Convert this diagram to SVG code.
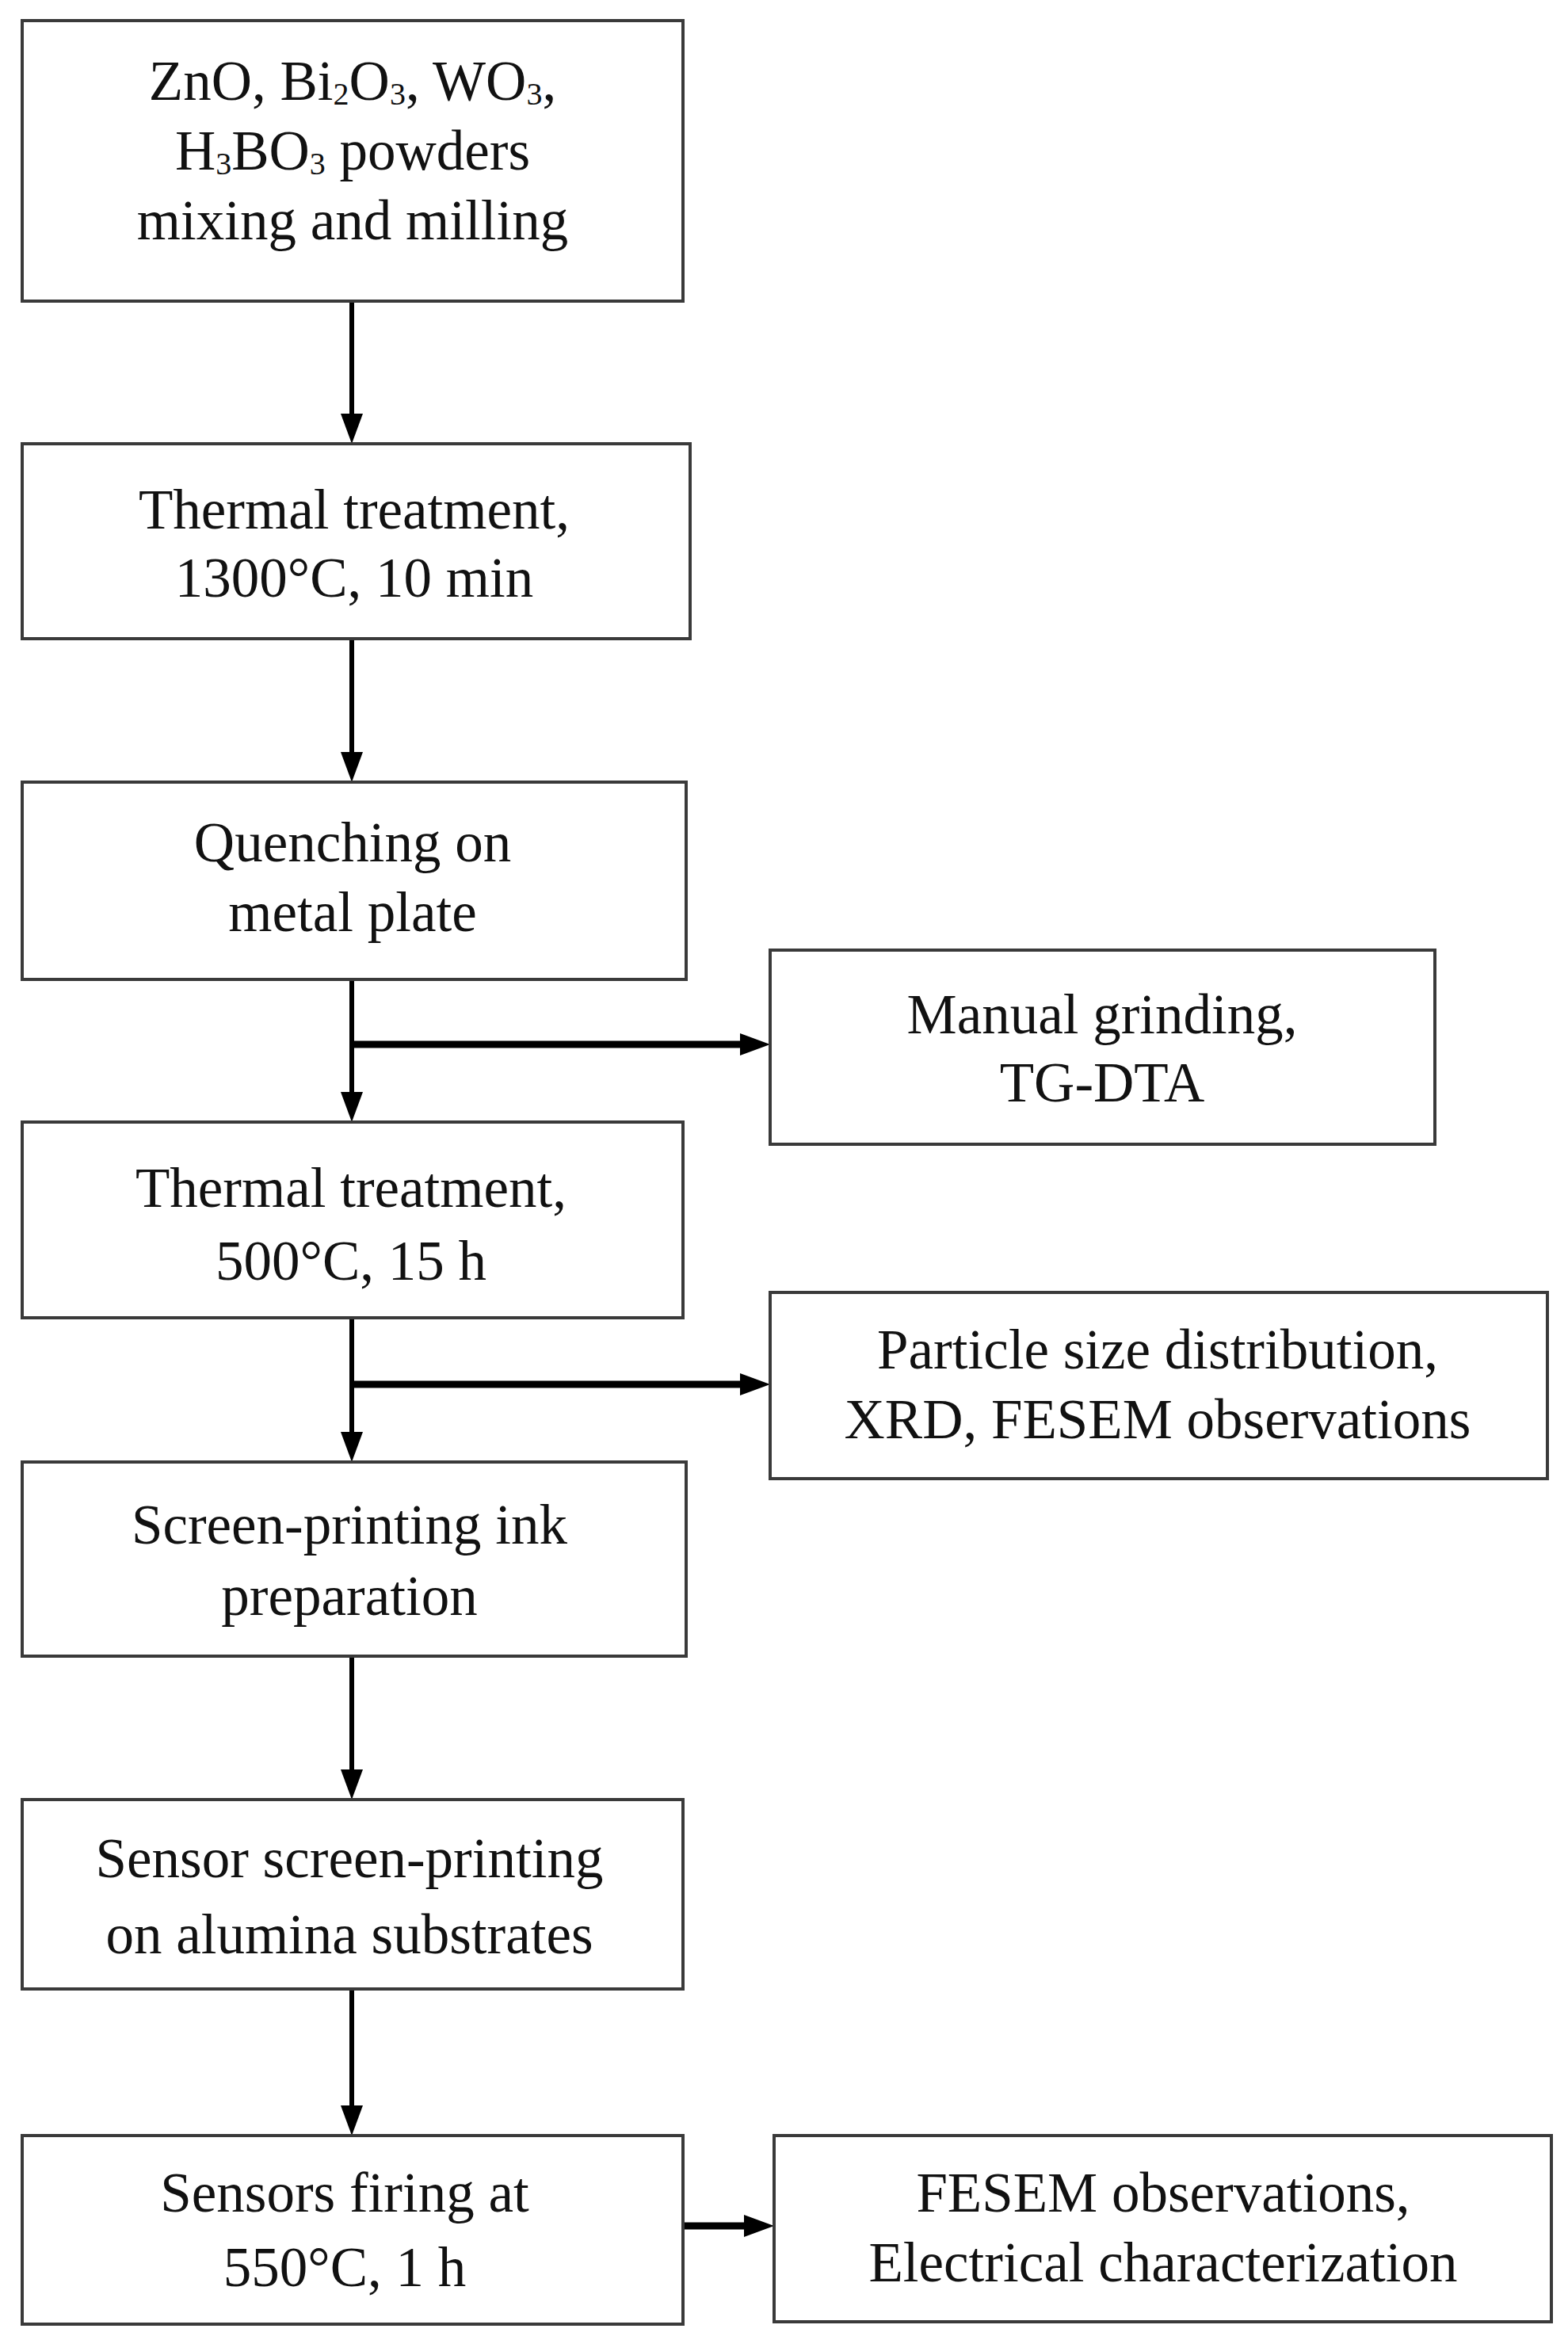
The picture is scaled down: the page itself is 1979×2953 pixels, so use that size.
<svg xmlns="http://www.w3.org/2000/svg" width="1979" height="2953" viewBox="0 0 1979 2953">
<style>
.box{fill:#fff;stroke:#3a3a3a;stroke-width:4}
.t{font-family:"Liberation Serif","Times New Roman",serif;font-size:71px;fill:#111;text-anchor:middle}
.v{stroke:#000;stroke-width:6;fill:none}
.h{stroke:#000;stroke-width:9;fill:none}
</style>
<defs>
<marker id="ah" markerUnits="userSpaceOnUse" markerWidth="38" markerHeight="28" refX="0" refY="14" orient="auto">
<path d="M0,0 L38,14 L0,28 z" fill="#000"/>
</marker>
</defs>
<rect width="1979" height="2953" fill="#fff"/>
<g id="connectors">
<line class="v" x1="444" y1="380" x2="444" y2="522" marker-end="url(#ah)"/>
<line class="v" x1="444" y1="806" x2="444" y2="949" marker-end="url(#ah)"/>
<line class="v" x1="444" y1="1236" x2="444" y2="1378" marker-end="url(#ah)"/>
<line class="h" x1="444" y1="1318" x2="934" y2="1318" marker-end="url(#ah)"/>
<line class="v" x1="444" y1="1663" x2="444" y2="1807" marker-end="url(#ah)"/>
<line class="h" x1="444" y1="1747" x2="934" y2="1747" marker-end="url(#ah)"/>
<line class="v" x1="444" y1="2090" x2="444" y2="2233" marker-end="url(#ah)"/>
<line class="v" x1="444" y1="2510" x2="444" y2="2657" marker-end="url(#ah)"/>
<line class="h" x1="862" y1="2809" x2="939" y2="2809" marker-end="url(#ah)"/>
</g>
<g id="n1">
<rect class="box" x="28" y="26" width="834" height="354"/>
<text class="t" x="445" y="126">ZnO, Bi<tspan font-size="40" dy="6">2</tspan><tspan dy="-6">O</tspan><tspan font-size="40" dy="6">3</tspan><tspan dy="-6">, WO</tspan><tspan font-size="40" dy="6">3</tspan><tspan dy="-6">,</tspan></text>
<text class="t" x="445" y="214">H<tspan font-size="40" dy="6">3</tspan><tspan dy="-6">BO</tspan><tspan font-size="40" dy="6">3</tspan><tspan dy="-6"> powders</tspan></text>
<text class="t" x="445" y="302">mixing and milling</text>
</g>
<g id="n2">
<rect class="box" x="28" y="560" width="843" height="246"/>
<text class="t" x="447" y="667">Thermal treatment,</text>
<text class="t" x="447" y="753">1300°C, 10 min</text>
</g>
<g id="n3">
<rect class="box" x="28" y="987" width="838" height="249"/>
<text class="t" x="445" y="1087">Quenching on</text>
<text class="t" x="445" y="1175">metal plate</text>
</g>
<g id="n4">
<rect class="box" x="972" y="1199" width="839" height="245"/>
<text class="t" x="1391" y="1304">Manual grinding,</text>
<text class="t" x="1391" y="1390">TG-DTA</text>
</g>
<g id="n5">
<rect class="box" x="28" y="1416" width="834" height="247"/>
<text class="t" x="443" y="1523">Thermal treatment,</text>
<text class="t" x="443" y="1615">500°C, 15 h</text>
</g>
<g id="n6">
<rect class="box" x="972" y="1631" width="981" height="235"/>
<text class="t" x="1461" y="1727">Particle size distribution,</text>
<text class="t" x="1461" y="1815">XRD, FESEM observations</text>
</g>
<g id="n7">
<rect class="box" x="28" y="1845" width="838" height="245"/>
<text class="t" x="441" y="1948">Screen-printing ink</text>
<text class="t" x="441" y="2038">preparation</text>
</g>
<g id="n8">
<rect class="box" x="28" y="2271" width="834" height="239"/>
<text class="t" x="441" y="2369">Sensor screen-printing</text>
<text class="t" x="441" y="2465">on alumina substrates</text>
</g>
<g id="n9">
<rect class="box" x="28" y="2695" width="834" height="238"/>
<text class="t" x="435" y="2791">Sensors firing at</text>
<text class="t" x="435" y="2885">550°C, 1 h</text>
</g>
<g id="n10">
<rect class="box" x="977" y="2695" width="981" height="235"/>
<text class="t" x="1468" y="2791">FESEM observations,</text>
<text class="t" x="1468" y="2879">Electrical characterization</text>
</g>
</svg>
